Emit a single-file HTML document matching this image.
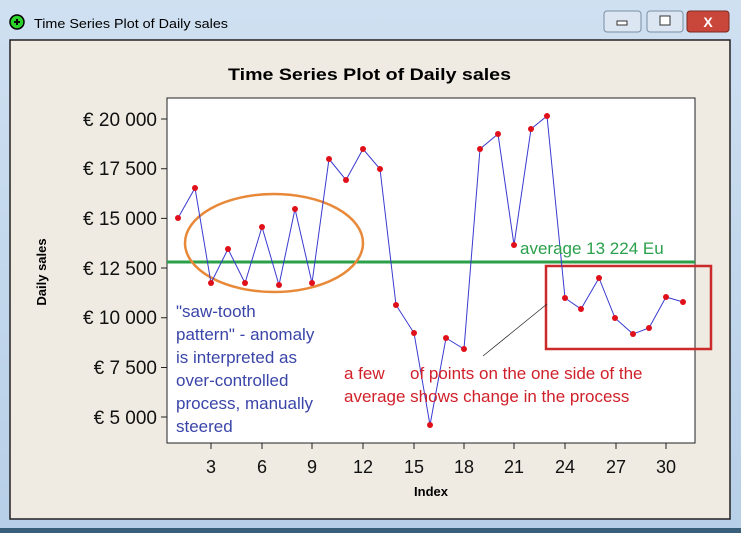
<!DOCTYPE html>
<html><head><style>
body{margin:0;width:741px;height:533px;overflow:hidden;background:#bcd3ea;}
svg{display:block}
text{font-family:"Liberation Sans",sans-serif}
</style></head><body>
<svg width="741" height="533" viewBox="0 0 741 533">
<defs><linearGradient id="tb" x1="0" y1="0" x2="0" y2="1"><stop offset="0" stop-color="#cfe0f1"/><stop offset="1" stop-color="#b7cfe8"/></linearGradient></defs>
<rect x="0" y="0" width="741" height="533" fill="url(#tb)"/>
<rect x="0" y="528" width="741" height="5" fill="#3a5f7a"/>
<circle cx="17" cy="22" r="7" fill="#2bd32b" stroke="#000" stroke-width="1.5"/>
<path d="M14 22h6M17 19v6" stroke="#000" stroke-width="2"/>
<text x="34" y="28" font-size="13" fill="#000" textLength="194" lengthAdjust="spacingAndGlyphs">Time Series Plot of Daily sales</text>
<rect x="604" y="11" width="37" height="21" rx="3" fill="#dbe6f2" stroke="#7b8ea3"/>
<rect x="617" y="21" width="10" height="4" fill="#fff" stroke="#333"/>
<rect x="647" y="11" width="36" height="21" rx="3" fill="#dbe6f2" stroke="#7b8ea3"/>
<rect x="660" y="16" width="10" height="9" fill="#fff" stroke="#333"/>
<rect x="687" y="11" width="42" height="21" rx="3" fill="#c9463a" stroke="#7a2a22"/>
<text x="708" y="27" font-size="14" font-weight="bold" fill="#fff" text-anchor="middle">X</text>
<rect x="10" y="40" width="720" height="479" fill="#efebe2" stroke="#222" stroke-width="1.5"/>
<text x="228" y="80" font-size="17" font-weight="bold" textLength="283" lengthAdjust="spacingAndGlyphs">Time Series Plot of Daily sales</text>
<rect x="167" y="98" width="528" height="345" fill="#fff" stroke="#222" stroke-width="1"/>
<g stroke="#222" stroke-width="1">
<path d="M161 119h6M161 168.7h6M161 218.4h6M161 268h6M161 317.8h6M161 367.5h6M161 417h6"/>
<path d="M211 443v6M262 443v6M312 443v6M363 443v6M414 443v6M464 443v6M514 443v6M565 443v6M616 443v6M666 443v6"/>
</g>
<g font-size="19" text-anchor="end" fill="#111">
<text x="157" y="126">€ 20 000</text><text x="157" y="175">€ 17 500</text><text x="157" y="225">€ 15 000</text><text x="157" y="275">€ 12 500</text><text x="157" y="324">€ 10 000</text><text x="157" y="374">€ 7 500</text><text x="157" y="424">€ 5 000</text>
</g>
<g font-size="18" text-anchor="middle" fill="#111">
<text x="211" y="473">3</text><text x="262" y="473">6</text><text x="312" y="473">9</text><text x="363" y="473">12</text><text x="414" y="473">15</text><text x="464" y="473">18</text><text x="514" y="473">21</text><text x="565" y="473">24</text><text x="616" y="473">27</text><text x="666" y="473">30</text>
</g>
<text x="431" y="496" font-size="13" font-weight="bold" text-anchor="middle">Index</text>
<text transform="translate(46,272) rotate(-90)" font-size="13" font-weight="bold" text-anchor="middle">Daily sales</text>
<line x1="167" y1="262" x2="695" y2="262" stroke="#2aa04a" stroke-width="3"/>
<ellipse cx="274" cy="243" rx="89" ry="49" fill="none" stroke="#e8893a" stroke-width="2.5"/>
<rect x="546" y="266" width="165" height="83" fill="none" stroke="#cc2a2a" stroke-width="2.5"/>
<line x1="483" y1="356" x2="547" y2="304" stroke="#222" stroke-width="0.7"/>
<polyline fill="none" stroke="#3a3ad0" stroke-width="1" points="178,218 195,188 211,283 228,249 245,283 262,227 279,285 295,209 312,283 329,159 346,180 363,149 380,169 396,305 414,333 430,425 446,338 464,349 480,149 498,134 514,245 531,129 547,116 565,298 581,309 599,278 615,318 633,334 649,328 666,297 683,302"/>
<g fill="#e0101a">
<circle cx="178" cy="218" r="3"/><circle cx="195" cy="188" r="3"/><circle cx="211" cy="283" r="3"/><circle cx="228" cy="249" r="3"/><circle cx="245" cy="283" r="3"/><circle cx="262" cy="227" r="3"/><circle cx="279" cy="285" r="3"/><circle cx="295" cy="209" r="3"/><circle cx="312" cy="283" r="3"/><circle cx="329" cy="159" r="3"/><circle cx="346" cy="180" r="3"/><circle cx="363" cy="149" r="3"/><circle cx="380" cy="169" r="3"/><circle cx="396" cy="305" r="3"/><circle cx="414" cy="333" r="3"/><circle cx="430" cy="425" r="3"/><circle cx="446" cy="338" r="3"/><circle cx="464" cy="349" r="3"/><circle cx="480" cy="149" r="3"/><circle cx="498" cy="134" r="3"/><circle cx="514" cy="245" r="3"/><circle cx="531" cy="129" r="3"/><circle cx="547" cy="116" r="3"/><circle cx="565" cy="298" r="3"/><circle cx="581" cy="309" r="3"/><circle cx="599" cy="278" r="3"/><circle cx="615" cy="318" r="3"/><circle cx="633" cy="334" r="3"/><circle cx="649" cy="328" r="3"/><circle cx="666" cy="297" r="3"/><circle cx="683" cy="302" r="3"/>
</g>
<text x="520" y="254" font-size="17" fill="#2aa04a">average 13 224 Eu</text>
<g font-size="17" fill="#3a45a8">
<text x="176" y="317">"saw-tooth</text><text x="176" y="340">pattern" - anomaly</text><text x="176" y="363">is interpreted as</text><text x="176" y="386">over-controlled</text><text x="176" y="409">process, manually</text><text x="176" y="432">steered</text>
</g>
<g font-size="17" fill="#d0202a">
<text x="344" y="379">a few</text><text x="410" y="379">of points on the one side of the</text>
<text x="344" y="402">average shows change in the process</text>
</g>
</svg>
</body></html>
